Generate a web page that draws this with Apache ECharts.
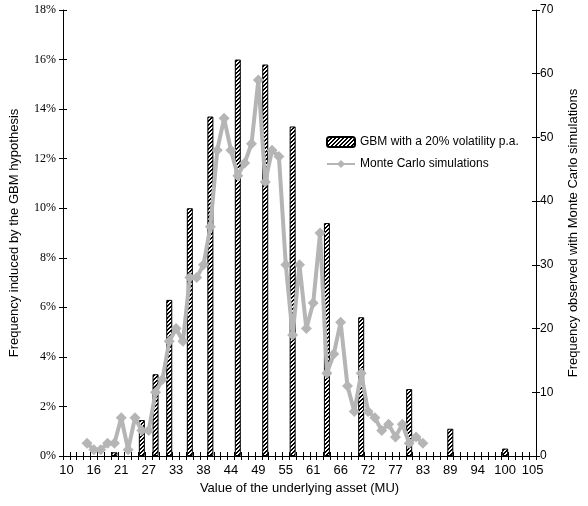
<!DOCTYPE html>
<html>
<head>
<meta charset="utf-8">
<script src="https://cdn.jsdelivr.net/npm/echarts@6/dist/echarts.min.js"></script>
<style>
  html, body { margin: 0; background: #fff; }
  #chart { width: 588px; height: 506px; }
</style>
</head>
<body>
<div id="chart"></div>
<script>
// x axis: 69 bins, a label every 4th bin
var binCount = 69;
var tickLabels = ['10', '16', '21', '27', '33', '38', '44', '49', '55', '61', '66', '72', '77', '83', '89', '94', '100', '105'];

// GBM (binomial) frequencies, in %, at the bins where they fall
var gbmBins = [7, 11, 13, 15, 18, 21, 25, 29, 33, 38, 43, 50, 56, 64];
var gbmFreq = [0.15, 1.45, 3.3, 6.3, 10.0, 13.7, 16.0, 15.8, 13.3, 9.4, 5.6, 2.7, 1.1, 0.3];

// Monte Carlo counts, one per bin starting at bin 3
var mcFirstBin = 3;
var mcCounts = [2, 1, 1, 2, 2, 6, 1, 6, 4, 4, 10, 12, 18, 20, 18, 28, 28, 30, 36, 48,
  53, 48, 44, 46, 49, 59, 43, 48, 47, 30, 19, 30, 20, 24, 35, 13, 16, 21, 11, 7,
  13, 7, 6, 4, 5, 3, 5, 2, 3, 2];

var cats = [], barData = [], lineData = [];
for (var i = 0; i < binCount; i++) { cats.push(String(i)); barData.push(null); lineData.push(null); }
gbmBins.forEach(function (b, k) { barData[b] = gbmFreq[k]; });
mcCounts.forEach(function (c, k) { lineData[mcFirstBin + k] = c; });

// hatch pattern for the bars
var hatch = document.createElement('canvas');
hatch.width = 4; hatch.height = 4;
var hctx = hatch.getContext('2d');
hctx.fillStyle = '#fff'; hctx.fillRect(0, 0, 4, 4);
hctx.fillStyle = '#000';
for (var x = 0; x < 4; x++) for (var y = 0; y < 4; y++) if ((x + y) % 4 < 2) hctx.fillRect(x, y, 1, 1);

var sans = 'Liberation Sans, Arial, sans-serif';
var serif = 'Liberation Serif, Times New Roman, serif';
var axisLine = { show: true, lineStyle: { color: '#000', width: 1 } };

var chart = echarts.init(document.getElementById('chart'));
chart.setOption({
  animation: false,
  backgroundColor: '#fff',
  textStyle: { fontFamily: sans, color: '#000' },
  grid: { left: 58, right: 38, top: 10, bottom: 50 },
  legend: {
    orient: 'vertical', left: 321, top: 131, itemWidth: 28, itemHeight: 10, itemGap: 10,
    textStyle: { fontFamily: sans, fontSize: 12, color: '#000' },
    data: ['GBM with a 20% volatility p.a.', 'Monte Carlo simulations']
  },
  xAxis: [{
    type: 'category', data: cats, boundaryGap: true,
    name: 'Value of the underlying asset (MU)', nameLocation: 'middle', nameGap: 26,
    nameTextStyle: { fontSize: 13, color: '#000' },
    axisLine: axisLine,
    axisTick: { show: true, interval: 0, length: 4, lineStyle: { color: '#000' } },
    axisLabel: { interval: 3, color: '#000', fontSize: 13, margin: 8,
      formatter: function (v, i) { return tickLabels[i / 4]; } },
    splitLine: { show: false }
  }, {
    type: 'category', data: cats, boundaryGap: true, position: 'bottom', gridIndex: 0,
    axisLine: { show: false },
    axisTick: { show: true, inside: true, interval: 0, length: 4, lineStyle: { color: '#000' } },
    axisLabel: { show: false }, splitLine: { show: false }
  }],
  yAxis: [{
    type: 'value', min: 0, max: 18, interval: 2, position: 'left',
    name: 'Frequency induced by the GBM hypothesis', nameLocation: 'middle', nameGap: 42, nameRotate: 90,
    nameTextStyle: { fontSize: 13, color: '#000' },
    axisLine: axisLine,
    axisTick: { show: true, length: 4, lineStyle: { color: '#000' } },
    axisLabel: { color: '#000', fontFamily: serif, fontSize: 12, margin: 7, formatter: '{value}%' },
    splitLine: { show: false }
  }, {
    type: 'value', min: 0, max: 18, interval: 2, position: 'left',
    axisLine: { show: false },
    axisTick: { show: true, inside: true, length: 4, lineStyle: { color: '#000' } },
    axisLabel: { show: false }, splitLine: { show: false }
  }, {
    type: 'value', min: 0, max: 70, interval: 10, position: 'right',
    name: 'Frequency observed with Monte Carlo simulations', nameLocation: 'middle', nameGap: 31, nameRotate: 90,
    nameTextStyle: { fontSize: 13, color: '#000' },
    axisLine: axisLine,
    axisTick: { show: true, length: 4, lineStyle: { color: '#000' } },
    axisLabel: { color: '#000', fontSize: 12, margin: 4 },
    splitLine: { show: false }
  }, {
    type: 'value', min: 0, max: 70, interval: 10, position: 'right',
    axisLine: { show: false },
    axisTick: { show: true, inside: true, length: 4, lineStyle: { color: '#000' } },
    axisLabel: { show: false }, splitLine: { show: false }
  }],
  series: [{
    name: 'GBM with a 20% volatility p.a.', type: 'bar', xAxisIndex: 0, yAxisIndex: 0,
    data: barData, barWidth: 6,
    itemStyle: { color: { image: hatch, repeat: 'repeat' }, borderColor: '#000', borderWidth: 1 }
  }, {
    name: 'Monte Carlo simulations', type: 'line', xAxisIndex: 0, yAxisIndex: 2,
    data: lineData, symbol: 'diamond', symbolSize: 11, showAllSymbol: true, z: 3,
    lineStyle: { color: '#b5b5b5', width: 4 },
    itemStyle: { color: '#b5b5b5' }
  }]
});
</script>
</body>
</html>
